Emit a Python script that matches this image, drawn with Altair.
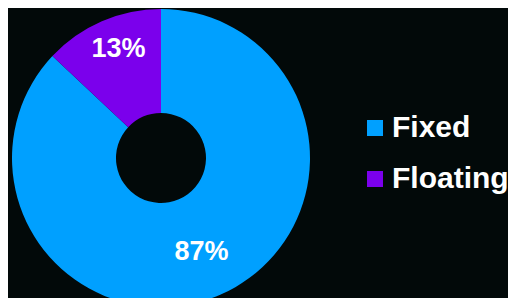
import altair as alt
import pandas as pd

categories = ["Fixed", "Floating"]
values = [87, 13]
labels = ["87%", "13%"]
colors = ["#00A0FF", "#7B00EC"]

df = pd.DataFrame({"type": categories, "value": values, "label": labels,
                   "order": [0, 1]})

base = alt.Chart(df).encode(
    theta=alt.Theta("value:Q", stack=True),
    order=alt.Order("order:Q"),
)

arcs = base.mark_arc(outerRadius=149, innerRadius=45).encode(
    x=alt.value(153),
    y=alt.value(150),
    color=alt.Color(
        "type:N",
        scale=alt.Scale(domain=categories, range=colors),
        sort=categories,
        legend=alt.Legend(
            title=None,
            orient="none",
            legendX=352,
            legendY=105,
            symbolType="square",
            symbolSize=256,
            symbolStrokeWidth=0,
            labelFontSize=30,
            labelFont="Liberation Sans",
            labelFontWeight="bold",
            labelColor="#FFFFFF",
            labelOffset=2,
            labelLimit=200,
            rowPadding=21,
        ),
    ),
)

lab_fixed = base.mark_text(
    radius=102, fontSize=27, font="Liberation Sans", fontWeight="bold",
    color="#FFFFFF", baseline="middle", align="center"
).encode(
    x=alt.value(153), y=alt.value(150),
    text=alt.condition("datum.type == 'Fixed'", "label:N", alt.value("")),
)

lab_float = base.mark_text(
    radius=117, fontSize=27, font="Liberation Sans", fontWeight="bold",
    color="#FFFFFF", baseline="middle", align="center", dx=4, dy=-2
).encode(
    x=alt.value(153), y=alt.value(150),
    text=alt.condition("datum.type == 'Floating'", "label:N", alt.value("")),
)

chart = alt.layer(arcs, lab_fixed, lab_float).properties(
    width=500, height=290, padding=0, autosize=alt.AutoSizeParams(type="none"),
    background="#020909",
).configure_view(stroke=None)

chart.save("out.html", embed_options={"renderer": "svg", "actions": False})
